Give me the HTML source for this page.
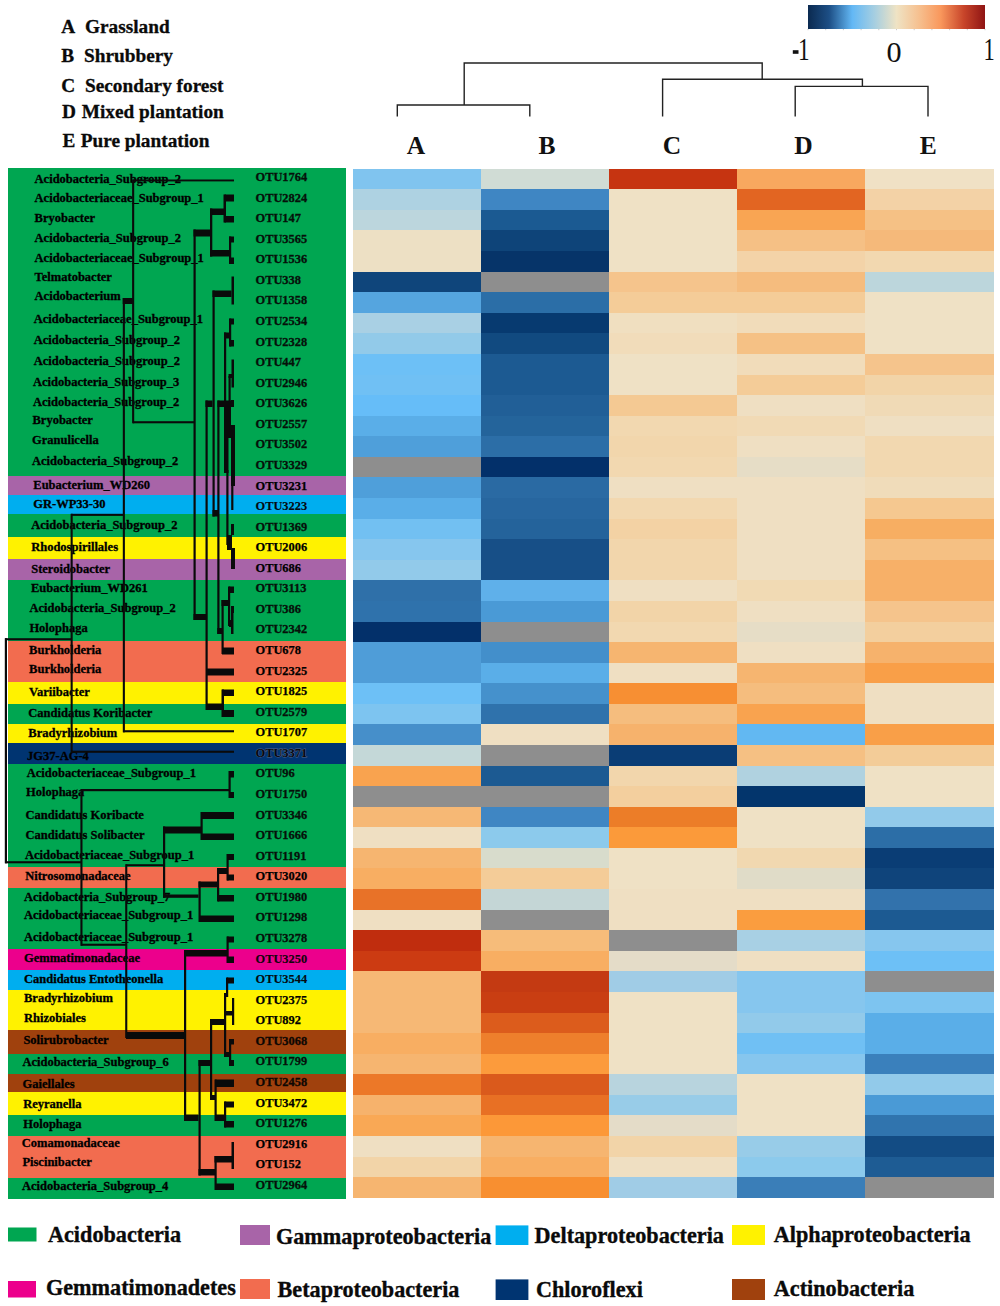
<!DOCTYPE html><html><head><meta charset="utf-8"><title>Heatmap</title>
<style>html,body{margin:0;padding:0;background:#fff}body{width:1000px;height:1306px;overflow:hidden}svg{display:block}text{font-family:"Liberation Serif", serif;}</style></head><body>
<svg width="1000" height="1306" viewBox="0 0 1000 1306">
<defs><linearGradient id="cb" x1="0" x2="1" y1="0" y2="0"><stop offset="0" stop-color="#0b2a50"/><stop offset="0.12" stop-color="#1d4f86"/><stop offset="0.25" stop-color="#63b8f5"/><stop offset="0.38" stop-color="#a8cfe0"/><stop offset="0.5" stop-color="#efe3c4"/><stop offset="0.63" stop-color="#f6bf8e"/><stop offset="0.75" stop-color="#f9975c"/><stop offset="0.88" stop-color="#c8452a"/><stop offset="1" stop-color="#8f1414"/></linearGradient></defs>
<rect width="1000" height="1306" fill="#fff"/>
<g font-weight="bold" font-size="19.3" fill="#0a0a0a" stroke="#0a0a0a" stroke-width="0.3">
<text x="61.3" y="32.6">A</text><text x="85.0" y="32.6">Grassland</text>
<text x="61.3" y="62.0">B</text><text x="84.0" y="62.0">Shrubbery</text>
<text x="61.3" y="91.8">C</text><text x="85.0" y="91.8">Secondary forest</text>
<text x="62.0" y="117.9">D</text><text x="81.8" y="117.9">Mixed plantation</text>
<text x="62.4" y="146.9">E</text><text x="80.7" y="146.9">Pure plantation</text>
</g>
<rect x="808" y="5" width="177" height="24" fill="url(#cb)"/>
<rect x="792.8" y="50.2" width="5.7" height="3.6" fill="#111"/>
<text transform="translate(798.1,59.7) scale(0.72,1)" font-size="32.3" fill="#111">1</text>
<text transform="translate(983.6,59.7) scale(0.70,1)" font-size="32.3" fill="#111">1</text>
<text transform="translate(886.6,62.3) scale(1.03,1)" font-size="29.3" fill="#111">0</text>
<g stroke="#b5b5b5" stroke-width="0.7">
<line x1="808.0" y1="29" x2="808.0" y2="30.2"/>
<line x1="825.7" y1="29" x2="825.7" y2="30.2"/>
<line x1="843.4" y1="29" x2="843.4" y2="30.2"/>
<line x1="861.1" y1="29" x2="861.1" y2="30.2"/>
<line x1="878.8" y1="29" x2="878.8" y2="30.2"/>
<line x1="896.5" y1="29" x2="896.5" y2="30.2"/>
<line x1="914.2" y1="29" x2="914.2" y2="30.2"/>
<line x1="931.9" y1="29" x2="931.9" y2="30.2"/>
<line x1="949.6" y1="29" x2="949.6" y2="30.2"/>
<line x1="967.3" y1="29" x2="967.3" y2="30.2"/>
<line x1="985.0" y1="29" x2="985.0" y2="30.2"/>
</g>
<g stroke="#222" stroke-width="1.4" fill="none">
<path d="M464.2 105V63H762.2V79.2"/>
<path d="M397.3 116.5V105H529.8V116.5"/>
<path d="M662.6 116.5V79.2H862.4V86.4"/>
<path d="M795.2 116.5V86.4H928V116.5"/>
</g>
<g font-weight="bold" font-size="25.5" fill="#111" text-anchor="middle">
<text x="416.0" y="154">A</text>
<text x="547.0" y="154">B</text>
<text x="672.0" y="154">C</text>
<text x="803.5" y="154">D</text>
<text x="928.3" y="154">E</text>
</g>
<g shape-rendering="crispEdges">
<rect x="8.2" y="167.8" width="338.0" height="308.8" fill="#00a651"/>
<rect x="8.2" y="476.0" width="338.0" height="19.5" fill="#a864a8"/>
<rect x="8.2" y="495.0" width="338.0" height="19.5" fill="#00aeef"/>
<rect x="8.2" y="514.0" width="338.0" height="23.0" fill="#00a651"/>
<rect x="8.2" y="536.5" width="338.0" height="23.0" fill="#fff200"/>
<rect x="8.2" y="559.0" width="338.0" height="21.5" fill="#a864a8"/>
<rect x="8.2" y="580.0" width="338.0" height="61.5" fill="#00a651"/>
<rect x="8.2" y="641.0" width="338.0" height="41.0" fill="#f26c4f"/>
<rect x="8.2" y="681.5" width="338.0" height="22.5" fill="#fff200"/>
<rect x="8.2" y="703.5" width="338.0" height="21.0" fill="#00a651"/>
<rect x="8.2" y="724.0" width="338.0" height="19.0" fill="#fff200"/>
<rect x="8.2" y="742.5" width="338.0" height="22.0" fill="#003471"/>
<rect x="8.2" y="764.0" width="338.0" height="103.5" fill="#00a651"/>
<rect x="8.2" y="867.0" width="338.0" height="21.5" fill="#f26c4f"/>
<rect x="8.2" y="888.0" width="338.0" height="61.5" fill="#00a651"/>
<rect x="8.2" y="949.0" width="338.0" height="21.5" fill="#ec008c"/>
<rect x="8.2" y="970.0" width="338.0" height="20.0" fill="#00aeef"/>
<rect x="8.2" y="989.5" width="338.0" height="41.0" fill="#fff200"/>
<rect x="8.2" y="1030.0" width="338.0" height="24.0" fill="#a0410d"/>
<rect x="8.2" y="1053.5" width="338.0" height="20.5" fill="#00a651"/>
<rect x="8.2" y="1073.5" width="338.0" height="19.0" fill="#a0410d"/>
<rect x="8.2" y="1092.0" width="338.0" height="23.1" fill="#fff200"/>
<rect x="8.2" y="1114.6" width="338.0" height="21.9" fill="#00a651"/>
<rect x="8.2" y="1136.0" width="338.0" height="42.0" fill="#f26c4f"/>
<rect x="8.2" y="1177.5" width="338.0" height="21.2" fill="#00a651"/>
</g>
<g shape-rendering="crispEdges">
<rect x="352.75" y="168.75" width="128.67" height="21.18" fill="#80c4ef"/>
<rect x="480.92" y="168.75" width="128.67" height="21.18" fill="#d0dcd5"/>
<rect x="609.09" y="168.75" width="128.67" height="21.18" fill="#c63411"/>
<rect x="737.26" y="168.75" width="128.67" height="21.18" fill="#f8a85f"/>
<rect x="865.43" y="168.75" width="128.67" height="21.18" fill="#f0e1c5"/>
<rect x="352.75" y="189.33" width="128.67" height="21.18" fill="#aed2e2"/>
<rect x="480.92" y="189.33" width="128.67" height="21.18" fill="#3f86c3"/>
<rect x="609.09" y="189.33" width="128.67" height="21.18" fill="#efe1c5"/>
<rect x="737.26" y="189.33" width="128.67" height="21.18" fill="#e26522"/>
<rect x="865.43" y="189.33" width="128.67" height="21.18" fill="#f3d2a6"/>
<rect x="352.75" y="209.91" width="128.67" height="21.18" fill="#bcd6dd"/>
<rect x="480.92" y="209.91" width="128.67" height="21.18" fill="#1b5a92"/>
<rect x="609.09" y="209.91" width="128.67" height="21.18" fill="#efe1c5"/>
<rect x="737.26" y="209.91" width="128.67" height="21.18" fill="#f9a553"/>
<rect x="865.43" y="209.91" width="128.67" height="21.18" fill="#f5c185"/>
<rect x="352.75" y="230.49" width="128.67" height="21.18" fill="#ede0c4"/>
<rect x="480.92" y="230.49" width="128.67" height="21.18" fill="#0e4479"/>
<rect x="609.09" y="230.49" width="128.67" height="21.18" fill="#efe1c5"/>
<rect x="737.26" y="230.49" width="128.67" height="21.18" fill="#f5c085"/>
<rect x="865.43" y="230.49" width="128.67" height="21.18" fill="#f5b97a"/>
<rect x="352.75" y="251.07" width="128.67" height="21.18" fill="#ede0c4"/>
<rect x="480.92" y="251.07" width="128.67" height="21.18" fill="#063469"/>
<rect x="609.09" y="251.07" width="128.67" height="21.18" fill="#efe1c5"/>
<rect x="737.26" y="251.07" width="128.67" height="21.18" fill="#f3d3a8"/>
<rect x="865.43" y="251.07" width="128.67" height="21.18" fill="#f2d8b0"/>
<rect x="352.75" y="271.65" width="128.67" height="21.18" fill="#0f457b"/>
<rect x="480.92" y="271.65" width="128.67" height="21.18" fill="#8e8e8e"/>
<rect x="609.09" y="271.65" width="128.67" height="21.18" fill="#f5c48c"/>
<rect x="737.26" y="271.65" width="128.67" height="21.18" fill="#f5bc7e"/>
<rect x="865.43" y="271.65" width="128.67" height="21.18" fill="#bcd6dc"/>
<rect x="352.75" y="292.23" width="128.67" height="21.18" fill="#55a5df"/>
<rect x="480.92" y="292.23" width="128.67" height="21.18" fill="#2b6ea7"/>
<rect x="609.09" y="292.23" width="128.67" height="21.18" fill="#f4cc98"/>
<rect x="737.26" y="292.23" width="128.67" height="21.18" fill="#f4cc98"/>
<rect x="865.43" y="292.23" width="128.67" height="21.18" fill="#efe1c5"/>
<rect x="352.75" y="312.81" width="128.67" height="21.18" fill="#a9d0e4"/>
<rect x="480.92" y="312.81" width="128.67" height="21.18" fill="#073a70"/>
<rect x="609.09" y="312.81" width="128.67" height="21.18" fill="#f0dfc0"/>
<rect x="737.26" y="312.81" width="128.67" height="21.18" fill="#f1dcba"/>
<rect x="865.43" y="312.81" width="128.67" height="21.18" fill="#efe1c5"/>
<rect x="352.75" y="333.39" width="128.67" height="21.18" fill="#92cae9"/>
<rect x="480.92" y="333.39" width="128.67" height="21.18" fill="#114a80"/>
<rect x="609.09" y="333.39" width="128.67" height="21.18" fill="#f1dcba"/>
<rect x="737.26" y="333.39" width="128.67" height="21.18" fill="#f5c185"/>
<rect x="865.43" y="333.39" width="128.67" height="21.18" fill="#efe1c5"/>
<rect x="352.75" y="353.97" width="128.67" height="21.18" fill="#6dc0f6"/>
<rect x="480.92" y="353.97" width="128.67" height="21.18" fill="#1c5a92"/>
<rect x="609.09" y="353.97" width="128.67" height="21.18" fill="#efe1c5"/>
<rect x="737.26" y="353.97" width="128.67" height="21.18" fill="#f1dcba"/>
<rect x="865.43" y="353.97" width="128.67" height="21.18" fill="#f5c48c"/>
<rect x="352.75" y="374.55" width="128.67" height="21.18" fill="#70c0f4"/>
<rect x="480.92" y="374.55" width="128.67" height="21.18" fill="#1c5a92"/>
<rect x="609.09" y="374.55" width="128.67" height="21.18" fill="#efe1c5"/>
<rect x="737.26" y="374.55" width="128.67" height="21.18" fill="#f4cc98"/>
<rect x="865.43" y="374.55" width="128.67" height="21.18" fill="#f2d4a8"/>
<rect x="352.75" y="395.13" width="128.67" height="21.18" fill="#66bdf8"/>
<rect x="480.92" y="395.13" width="128.67" height="21.18" fill="#215f97"/>
<rect x="609.09" y="395.13" width="128.67" height="21.18" fill="#f4c993"/>
<rect x="737.26" y="395.13" width="128.67" height="21.18" fill="#efdfc2"/>
<rect x="865.43" y="395.13" width="128.67" height="21.18" fill="#f0dab6"/>
<rect x="352.75" y="415.71" width="128.67" height="21.18" fill="#5aaee8"/>
<rect x="480.92" y="415.71" width="128.67" height="21.18" fill="#24649b"/>
<rect x="609.09" y="415.71" width="128.67" height="21.18" fill="#f2d8b0"/>
<rect x="737.26" y="415.71" width="128.67" height="21.18" fill="#f1dab5"/>
<rect x="865.43" y="415.71" width="128.67" height="21.18" fill="#efdfc2"/>
<rect x="352.75" y="436.29" width="128.67" height="21.18" fill="#4f9fda"/>
<rect x="480.92" y="436.29" width="128.67" height="21.18" fill="#2c6ea7"/>
<rect x="609.09" y="436.29" width="128.67" height="21.18" fill="#f2d6ac"/>
<rect x="737.26" y="436.29" width="128.67" height="21.18" fill="#efdfc2"/>
<rect x="865.43" y="436.29" width="128.67" height="21.18" fill="#f2d8b0"/>
<rect x="352.75" y="456.87" width="128.67" height="21.18" fill="#8e8e8e"/>
<rect x="480.92" y="456.87" width="128.67" height="21.18" fill="#03306a"/>
<rect x="609.09" y="456.87" width="128.67" height="21.18" fill="#f2d8b0"/>
<rect x="737.26" y="456.87" width="128.67" height="21.18" fill="#e6ddc6"/>
<rect x="865.43" y="456.87" width="128.67" height="21.18" fill="#f2d8b0"/>
<rect x="352.75" y="477.45" width="128.67" height="21.18" fill="#4f9fda"/>
<rect x="480.92" y="477.45" width="128.67" height="21.18" fill="#2a6aa3"/>
<rect x="609.09" y="477.45" width="128.67" height="21.18" fill="#efdfc2"/>
<rect x="737.26" y="477.45" width="128.67" height="21.18" fill="#efdfc2"/>
<rect x="865.43" y="477.45" width="128.67" height="21.18" fill="#f0dcba"/>
<rect x="352.75" y="498.03" width="128.67" height="21.18" fill="#5aaee8"/>
<rect x="480.92" y="498.03" width="128.67" height="21.18" fill="#27669f"/>
<rect x="609.09" y="498.03" width="128.67" height="21.18" fill="#f2d8b0"/>
<rect x="737.26" y="498.03" width="128.67" height="21.18" fill="#efdfc2"/>
<rect x="865.43" y="498.03" width="128.67" height="21.18" fill="#f5c890"/>
<rect x="352.75" y="518.61" width="128.67" height="21.18" fill="#72c0f2"/>
<rect x="480.92" y="518.61" width="128.67" height="21.18" fill="#24639b"/>
<rect x="609.09" y="518.61" width="128.67" height="21.18" fill="#f3d2a4"/>
<rect x="737.26" y="518.61" width="128.67" height="21.18" fill="#efdfc2"/>
<rect x="865.43" y="518.61" width="128.67" height="21.18" fill="#f7ae62"/>
<rect x="352.75" y="539.19" width="128.67" height="21.18" fill="#86c6ee"/>
<rect x="480.92" y="539.19" width="128.67" height="21.18" fill="#174f87"/>
<rect x="609.09" y="539.19" width="128.67" height="21.18" fill="#f2d6ac"/>
<rect x="737.26" y="539.19" width="128.67" height="21.18" fill="#efdfc2"/>
<rect x="865.43" y="539.19" width="128.67" height="21.18" fill="#f5c083"/>
<rect x="352.75" y="559.77" width="128.67" height="21.18" fill="#92caea"/>
<rect x="480.92" y="559.77" width="128.67" height="21.18" fill="#174f87"/>
<rect x="609.09" y="559.77" width="128.67" height="21.18" fill="#f2d6ac"/>
<rect x="737.26" y="559.77" width="128.67" height="21.18" fill="#efdfc2"/>
<rect x="865.43" y="559.77" width="128.67" height="21.18" fill="#f7b068"/>
<rect x="352.75" y="580.35" width="128.67" height="21.18" fill="#2f70a9"/>
<rect x="480.92" y="580.35" width="128.67" height="21.18" fill="#5fb0ea"/>
<rect x="609.09" y="580.35" width="128.67" height="21.18" fill="#efdfc2"/>
<rect x="737.26" y="580.35" width="128.67" height="21.18" fill="#f1dab4"/>
<rect x="865.43" y="580.35" width="128.67" height="21.18" fill="#f7b068"/>
<rect x="352.75" y="600.93" width="128.67" height="21.18" fill="#2f72ac"/>
<rect x="480.92" y="600.93" width="128.67" height="21.18" fill="#4a9ad6"/>
<rect x="609.09" y="600.93" width="128.67" height="21.18" fill="#f2d4a8"/>
<rect x="737.26" y="600.93" width="128.67" height="21.18" fill="#efdfc2"/>
<rect x="865.43" y="600.93" width="128.67" height="21.18" fill="#f5c48c"/>
<rect x="352.75" y="621.51" width="128.67" height="21.18" fill="#03306a"/>
<rect x="480.92" y="621.51" width="128.67" height="21.18" fill="#8e8e8e"/>
<rect x="609.09" y="621.51" width="128.67" height="21.18" fill="#f2d8b0"/>
<rect x="737.26" y="621.51" width="128.67" height="21.18" fill="#e6ddc6"/>
<rect x="865.43" y="621.51" width="128.67" height="21.18" fill="#f3cf9e"/>
<rect x="352.75" y="642.09" width="128.67" height="21.18" fill="#4f9dd8"/>
<rect x="480.92" y="642.09" width="128.67" height="21.18" fill="#438fcb"/>
<rect x="609.09" y="642.09" width="128.67" height="21.18" fill="#f6b570"/>
<rect x="737.26" y="642.09" width="128.67" height="21.18" fill="#efdfc2"/>
<rect x="865.43" y="642.09" width="128.67" height="21.18" fill="#f6b26c"/>
<rect x="352.75" y="662.67" width="128.67" height="21.18" fill="#4f9dd8"/>
<rect x="480.92" y="662.67" width="128.67" height="21.18" fill="#5aaee8"/>
<rect x="609.09" y="662.67" width="128.67" height="21.18" fill="#efdfc2"/>
<rect x="737.26" y="662.67" width="128.67" height="21.18" fill="#f6b570"/>
<rect x="865.43" y="662.67" width="128.67" height="21.18" fill="#f99f48"/>
<rect x="352.75" y="683.25" width="128.67" height="21.18" fill="#6dc0f6"/>
<rect x="480.92" y="683.25" width="128.67" height="21.18" fill="#4591cc"/>
<rect x="609.09" y="683.25" width="128.67" height="21.18" fill="#f78f33"/>
<rect x="737.26" y="683.25" width="128.67" height="21.18" fill="#f5bd7e"/>
<rect x="865.43" y="683.25" width="128.67" height="21.18" fill="#efdfc2"/>
<rect x="352.75" y="703.83" width="128.67" height="21.18" fill="#7dc4f0"/>
<rect x="480.92" y="703.83" width="128.67" height="21.18" fill="#2f72ac"/>
<rect x="609.09" y="703.83" width="128.67" height="21.18" fill="#f5bd7e"/>
<rect x="737.26" y="703.83" width="128.67" height="21.18" fill="#f9a34f"/>
<rect x="865.43" y="703.83" width="128.67" height="21.18" fill="#efdfc2"/>
<rect x="352.75" y="724.41" width="128.67" height="21.18" fill="#468fca"/>
<rect x="480.92" y="724.41" width="128.67" height="21.18" fill="#efdfc2"/>
<rect x="609.09" y="724.41" width="128.67" height="21.18" fill="#f6b26c"/>
<rect x="737.26" y="724.41" width="128.67" height="21.18" fill="#62b8f2"/>
<rect x="865.43" y="724.41" width="128.67" height="21.18" fill="#f99f48"/>
<rect x="352.75" y="744.99" width="128.67" height="21.18" fill="#c4d8d8"/>
<rect x="480.92" y="744.99" width="128.67" height="21.18" fill="#8e8e8e"/>
<rect x="609.09" y="744.99" width="128.67" height="21.18" fill="#0a3d75"/>
<rect x="737.26" y="744.99" width="128.67" height="21.18" fill="#f5c083"/>
<rect x="865.43" y="744.99" width="128.67" height="21.18" fill="#f3cc98"/>
<rect x="352.75" y="765.57" width="128.67" height="21.18" fill="#f9a34f"/>
<rect x="480.92" y="765.57" width="128.67" height="21.18" fill="#1c5a92"/>
<rect x="609.09" y="765.57" width="128.67" height="21.18" fill="#f2d6ac"/>
<rect x="737.26" y="765.57" width="128.67" height="21.18" fill="#b0d2e0"/>
<rect x="865.43" y="765.57" width="128.67" height="21.18" fill="#efe1c5"/>
<rect x="352.75" y="786.15" width="128.67" height="21.18" fill="#8e8e8e"/>
<rect x="480.92" y="786.15" width="128.67" height="21.18" fill="#8e8e8e"/>
<rect x="609.09" y="786.15" width="128.67" height="21.18" fill="#f3cf9e"/>
<rect x="737.26" y="786.15" width="128.67" height="21.18" fill="#03356c"/>
<rect x="865.43" y="786.15" width="128.67" height="21.18" fill="#efe1c5"/>
<rect x="352.75" y="806.73" width="128.67" height="21.18" fill="#f6b875"/>
<rect x="480.92" y="806.73" width="128.67" height="21.18" fill="#3f86c3"/>
<rect x="609.09" y="806.73" width="128.67" height="21.18" fill="#ec7d28"/>
<rect x="737.26" y="806.73" width="128.67" height="21.18" fill="#efe1c5"/>
<rect x="865.43" y="806.73" width="128.67" height="21.18" fill="#92caea"/>
<rect x="352.75" y="827.31" width="128.67" height="21.18" fill="#efdfc2"/>
<rect x="480.92" y="827.31" width="128.67" height="21.18" fill="#8ccaec"/>
<rect x="609.09" y="827.31" width="128.67" height="21.18" fill="#fb9a3a"/>
<rect x="737.26" y="827.31" width="128.67" height="21.18" fill="#efe1c5"/>
<rect x="865.43" y="827.31" width="128.67" height="21.18" fill="#2c6ea7"/>
<rect x="352.75" y="847.89" width="128.67" height="21.18" fill="#f6b570"/>
<rect x="480.92" y="847.89" width="128.67" height="21.18" fill="#d8dccc"/>
<rect x="609.09" y="847.89" width="128.67" height="21.18" fill="#efe1c5"/>
<rect x="737.26" y="847.89" width="128.67" height="21.18" fill="#f1d8b0"/>
<rect x="865.43" y="847.89" width="128.67" height="21.18" fill="#0a3d75"/>
<rect x="352.75" y="868.47" width="128.67" height="21.18" fill="#f8ae62"/>
<rect x="480.92" y="868.47" width="128.67" height="21.18" fill="#f4cc98"/>
<rect x="609.09" y="868.47" width="128.67" height="21.18" fill="#efe1c5"/>
<rect x="737.26" y="868.47" width="128.67" height="21.18" fill="#e0dcc8"/>
<rect x="865.43" y="868.47" width="128.67" height="21.18" fill="#0f447b"/>
<rect x="352.75" y="889.05" width="128.67" height="21.18" fill="#e87228"/>
<rect x="480.92" y="889.05" width="128.67" height="21.18" fill="#c4d6d6"/>
<rect x="609.09" y="889.05" width="128.67" height="21.18" fill="#efdfc2"/>
<rect x="737.26" y="889.05" width="128.67" height="21.18" fill="#efdfc2"/>
<rect x="865.43" y="889.05" width="128.67" height="21.18" fill="#3272ac"/>
<rect x="352.75" y="909.63" width="128.67" height="21.18" fill="#efdfc2"/>
<rect x="480.92" y="909.63" width="128.67" height="21.18" fill="#8e8e8e"/>
<rect x="609.09" y="909.63" width="128.67" height="21.18" fill="#efdfc2"/>
<rect x="737.26" y="909.63" width="128.67" height="21.18" fill="#fa9d3f"/>
<rect x="865.43" y="909.63" width="128.67" height="21.18" fill="#1c5a92"/>
<rect x="352.75" y="930.21" width="128.67" height="21.18" fill="#c02d0e"/>
<rect x="480.92" y="930.21" width="128.67" height="21.18" fill="#f6bc7a"/>
<rect x="609.09" y="930.21" width="128.67" height="21.18" fill="#8e8e8e"/>
<rect x="737.26" y="930.21" width="128.67" height="21.18" fill="#a8d0e4"/>
<rect x="865.43" y="930.21" width="128.67" height="21.18" fill="#86c6ee"/>
<rect x="352.75" y="950.79" width="128.67" height="21.18" fill="#cc3b12"/>
<rect x="480.92" y="950.79" width="128.67" height="21.18" fill="#f8ae62"/>
<rect x="609.09" y="950.79" width="128.67" height="21.18" fill="#e4dcc8"/>
<rect x="737.26" y="950.79" width="128.67" height="21.18" fill="#efdfc2"/>
<rect x="865.43" y="950.79" width="128.67" height="21.18" fill="#6dc0f6"/>
<rect x="352.75" y="971.37" width="128.67" height="21.18" fill="#f6b875"/>
<rect x="480.92" y="971.37" width="128.67" height="21.18" fill="#c43a12"/>
<rect x="609.09" y="971.37" width="128.67" height="21.18" fill="#a0cce6"/>
<rect x="737.26" y="971.37" width="128.67" height="21.18" fill="#86c6ee"/>
<rect x="865.43" y="971.37" width="128.67" height="21.18" fill="#8e8e8e"/>
<rect x="352.75" y="991.95" width="128.67" height="21.18" fill="#f6b875"/>
<rect x="480.92" y="991.95" width="128.67" height="21.18" fill="#c93e12"/>
<rect x="609.09" y="991.95" width="128.67" height="21.18" fill="#efe1c5"/>
<rect x="737.26" y="991.95" width="128.67" height="21.18" fill="#86c6ee"/>
<rect x="865.43" y="991.95" width="128.67" height="21.18" fill="#7dc4f0"/>
<rect x="352.75" y="1012.53" width="128.67" height="21.18" fill="#f6b875"/>
<rect x="480.92" y="1012.53" width="128.67" height="21.18" fill="#dc5c1c"/>
<rect x="609.09" y="1012.53" width="128.67" height="21.18" fill="#efe1c5"/>
<rect x="737.26" y="1012.53" width="128.67" height="21.18" fill="#92caea"/>
<rect x="865.43" y="1012.53" width="128.67" height="21.18" fill="#5aaee8"/>
<rect x="352.75" y="1033.11" width="128.67" height="21.18" fill="#f8ae62"/>
<rect x="480.92" y="1033.11" width="128.67" height="21.18" fill="#ee7f2c"/>
<rect x="609.09" y="1033.11" width="128.67" height="21.18" fill="#efe1c5"/>
<rect x="737.26" y="1033.11" width="128.67" height="21.18" fill="#70c0f4"/>
<rect x="865.43" y="1033.11" width="128.67" height="21.18" fill="#5aaee8"/>
<rect x="352.75" y="1053.69" width="128.67" height="21.18" fill="#f6b570"/>
<rect x="480.92" y="1053.69" width="128.67" height="21.18" fill="#fc9b3c"/>
<rect x="609.09" y="1053.69" width="128.67" height="21.18" fill="#efe1c5"/>
<rect x="737.26" y="1053.69" width="128.67" height="21.18" fill="#86c6ee"/>
<rect x="865.43" y="1053.69" width="128.67" height="21.18" fill="#3a80bc"/>
<rect x="352.75" y="1074.27" width="128.67" height="21.18" fill="#ec7828"/>
<rect x="480.92" y="1074.27" width="128.67" height="21.18" fill="#da5a1c"/>
<rect x="609.09" y="1074.27" width="128.67" height="21.18" fill="#b8d4de"/>
<rect x="737.26" y="1074.27" width="128.67" height="21.18" fill="#efe1c5"/>
<rect x="865.43" y="1074.27" width="128.67" height="21.18" fill="#92caea"/>
<rect x="352.75" y="1094.85" width="128.67" height="21.18" fill="#f6b26c"/>
<rect x="480.92" y="1094.85" width="128.67" height="21.18" fill="#e87024"/>
<rect x="609.09" y="1094.85" width="128.67" height="21.18" fill="#98cce8"/>
<rect x="737.26" y="1094.85" width="128.67" height="21.18" fill="#efe1c5"/>
<rect x="865.43" y="1094.85" width="128.67" height="21.18" fill="#4a9ad6"/>
<rect x="352.75" y="1115.43" width="128.67" height="21.18" fill="#f9a855"/>
<rect x="480.92" y="1115.43" width="128.67" height="21.18" fill="#fc9838"/>
<rect x="609.09" y="1115.43" width="128.67" height="21.18" fill="#e4dcc8"/>
<rect x="737.26" y="1115.43" width="128.67" height="21.18" fill="#efe1c5"/>
<rect x="865.43" y="1115.43" width="128.67" height="21.18" fill="#3074ae"/>
<rect x="352.75" y="1136.01" width="128.67" height="21.18" fill="#efdfc2"/>
<rect x="480.92" y="1136.01" width="128.67" height="21.18" fill="#f6b570"/>
<rect x="609.09" y="1136.01" width="128.67" height="21.18" fill="#f2d4a8"/>
<rect x="737.26" y="1136.01" width="128.67" height="21.18" fill="#98cce8"/>
<rect x="865.43" y="1136.01" width="128.67" height="21.18" fill="#134c84"/>
<rect x="352.75" y="1156.59" width="128.67" height="21.18" fill="#f2d4a8"/>
<rect x="480.92" y="1156.59" width="128.67" height="21.18" fill="#f8ae62"/>
<rect x="609.09" y="1156.59" width="128.67" height="21.18" fill="#efdfc2"/>
<rect x="737.26" y="1156.59" width="128.67" height="21.18" fill="#8ccaec"/>
<rect x="865.43" y="1156.59" width="128.67" height="21.18" fill="#1e5c94"/>
<rect x="352.75" y="1177.17" width="128.67" height="21.18" fill="#f6b570"/>
<rect x="480.92" y="1177.17" width="128.67" height="21.18" fill="#f88f30"/>
<rect x="609.09" y="1177.17" width="128.67" height="21.18" fill="#a0cce6"/>
<rect x="737.26" y="1177.17" width="128.67" height="21.18" fill="#3a7eb8"/>
<rect x="865.43" y="1177.17" width="128.67" height="21.18" fill="#8e8e8e"/>
</g>
<g font-weight="bold" font-size="12.5" fill="#000" stroke="#000" stroke-width="0.3">
<text x="34.6" y="182.6">Acidobacteria_Subgroup_2</text>
<text x="34.6" y="202.4">Acidobacteriaceae_Subgroup_1</text>
<text x="34.6" y="222.4">Bryobacter</text>
<text x="34.6" y="242.4">Acidobacteria_Subgroup_2</text>
<text x="34.6" y="262.2">Acidobacteriaceae_Subgroup_1</text>
<text x="34.6" y="281.4">Telmatobacter</text>
<text x="34.6" y="300.4">Acidobacterium</text>
<text x="33.8" y="322.5">Acidobacteriaceae_Subgroup_1</text>
<text x="33.8" y="343.8">Acidobacteria_Subgroup_2</text>
<text x="33.8" y="364.9">Acidobacteria_Subgroup_2</text>
<text x="33.0" y="386.2">Acidobacteria_Subgroup_3</text>
<text x="33.0" y="405.7">Acidobacteria_Subgroup_2</text>
<text x="32.5" y="424.3">Bryobacter</text>
<text x="32.0" y="443.8">Granulicella</text>
<text x="32.0" y="465.4">Acidobacteria_Subgroup_2</text>
<text x="33.3" y="488.8">Eubacterium_WD260</text>
<text x="33.3" y="508.3">GR-WP33-30</text>
<text x="31.2" y="529.1">Acidobacteria_Subgroup_2</text>
<text x="31.2" y="550.7">Rhodospirillales</text>
<text x="31.2" y="572.8">Steroidobacter</text>
<text x="31.0" y="592.3">Eubacterium_WD261</text>
<text x="29.4" y="612.3">Acidobacteria_Subgroup_2</text>
<text x="29.4" y="631.8">Holophaga</text>
<text x="29.1" y="654.0">Burkholderia</text>
<text x="29.1" y="673.4">Burkholderia</text>
<text x="29.1" y="696.3">Variibacter</text>
<text x="28.3" y="716.6">Candidatus Koribacter</text>
<text x="28.3" y="736.6">Bradyrhizobium</text>
<text x="27.0" y="759.5">JG37-AG-4</text>
<text x="26.8" y="777.0">Acidobacteriaceae_Subgroup_1</text>
<text x="26.0" y="796.4">Holophaga</text>
<text x="25.5" y="819.3">Candidatus Koribacte</text>
<text x="25.5" y="838.8">Candidatus Solibacter</text>
<text x="25.0" y="858.8">Acidobacteriaceae_Subgroup_1</text>
<text x="25.2" y="879.5">Nitrosomonadaceae</text>
<text x="24.0" y="901.2">Acidobacteria_Subgroup_7</text>
<text x="24.0" y="918.9">Acidobacteriaceae_Subgroup_1</text>
<text x="24.0" y="940.7">Acidobacteriaceae_Subgroup_1</text>
<text x="24.0" y="962.3">Gemmatimonadaceae</text>
<text x="24.0" y="983.0">Candidatus Entotheonella</text>
<text x="24.0" y="1002.0">Bradyrhizobium</text>
<text x="24.0" y="1021.6">Rhizobiales</text>
<text x="23.4" y="1043.7">Solirubrobacter</text>
<text x="22.4" y="1065.8">Acidobacteria_Subgroup_6</text>
<text x="22.6" y="1088.0">Gaiellales</text>
<text x="23.2" y="1108.0">Reyranella</text>
<text x="23.2" y="1128.0">Holophaga</text>
<text x="21.8" y="1147.0">Comamonadaceae</text>
<text x="22.4" y="1165.8">Piscinibacter</text>
<text x="22.0" y="1190.4">Acidobacteria_Subgroup_4</text>
</g>
<g font-weight="bold" font-size="12.4" paint-order="stroke">
<text x="255.5" y="180.9" fill="#06100a" stroke="#06100a" stroke-width="0.3">OTU1764</text>
<text x="255.5" y="201.5" fill="#06100a" stroke="#06100a" stroke-width="0.3">OTU2824</text>
<text x="255.5" y="222.0" fill="#06100a" stroke="#06100a" stroke-width="0.3">OTU147</text>
<text x="255.5" y="242.6" fill="#06100a" stroke="#06100a" stroke-width="0.3">OTU3565</text>
<text x="255.5" y="263.2" fill="#06100a" stroke="#06100a" stroke-width="0.3">OTU1536</text>
<text x="255.5" y="283.8" fill="#06100a" stroke="#06100a" stroke-width="0.3">OTU338</text>
<text x="255.5" y="304.3" fill="#06100a" stroke="#06100a" stroke-width="0.3">OTU1358</text>
<text x="255.5" y="324.9" fill="#06100a" stroke="#06100a" stroke-width="0.3">OTU2534</text>
<text x="255.5" y="345.5" fill="#06100a" stroke="#06100a" stroke-width="0.3">OTU2328</text>
<text x="255.5" y="366.0" fill="#06100a" stroke="#06100a" stroke-width="0.3">OTU447</text>
<text x="255.5" y="386.6" fill="#06100a" stroke="#06100a" stroke-width="0.3">OTU2946</text>
<text x="255.5" y="407.2" fill="#06100a" stroke="#06100a" stroke-width="0.3">OTU3626</text>
<text x="255.5" y="427.7" fill="#06100a" stroke="#06100a" stroke-width="0.3">OTU2557</text>
<text x="255.5" y="448.3" fill="#06100a" stroke="#06100a" stroke-width="0.3">OTU3502</text>
<text x="255.5" y="468.9" fill="#06100a" stroke="#06100a" stroke-width="0.3">OTU3329</text>
<text x="255.5" y="489.5" fill="#000" stroke="#000" stroke-width="0.25">OTU3231</text>
<text x="255.5" y="510.0" fill="#050a10" stroke="#050a10" stroke-width="0.15">OTU3223</text>
<text x="255.5" y="530.6" fill="#06100a" stroke="#06100a" stroke-width="0.3">OTU1369</text>
<text x="255.5" y="551.2" fill="#000" stroke="#000" stroke-width="0.25">OTU2006</text>
<text x="255.5" y="571.7" fill="#000" stroke="#000" stroke-width="0.25">OTU686</text>
<text x="255.5" y="592.3" fill="#06100a" stroke="#06100a" stroke-width="0.3">OTU3113</text>
<text x="255.5" y="612.9" fill="#06100a" stroke="#06100a" stroke-width="0.3">OTU386</text>
<text x="255.5" y="633.4" fill="#06100a" stroke="#06100a" stroke-width="0.3">OTU2342</text>
<text x="255.5" y="654.0" fill="#000" stroke="#000" stroke-width="0.25">OTU678</text>
<text x="255.5" y="674.6" fill="#000" stroke="#000" stroke-width="0.25">OTU2325</text>
<text x="255.5" y="695.1" fill="#000" stroke="#000" stroke-width="0.25">OTU1825</text>
<text x="255.5" y="715.7" fill="#06100a" stroke="#06100a" stroke-width="0.3">OTU2579</text>
<text x="255.5" y="736.3" fill="#000" stroke="#000" stroke-width="0.25">OTU1707</text>
<text x="255.5" y="756.9" fill="#07080f" stroke="#55648a" stroke-width="0.9">OTU3371</text>
<text x="255.5" y="777.4" fill="#06100a" stroke="#06100a" stroke-width="0.3">OTU96</text>
<text x="255.5" y="798.0" fill="#06100a" stroke="#06100a" stroke-width="0.3">OTU1750</text>
<text x="255.5" y="818.6" fill="#06100a" stroke="#06100a" stroke-width="0.3">OTU3346</text>
<text x="255.5" y="839.1" fill="#06100a" stroke="#06100a" stroke-width="0.3">OTU1666</text>
<text x="255.5" y="859.7" fill="#06100a" stroke="#06100a" stroke-width="0.3">OTU1191</text>
<text x="255.5" y="880.3" fill="#000" stroke="#000" stroke-width="0.25">OTU3020</text>
<text x="255.5" y="900.9" fill="#06100a" stroke="#06100a" stroke-width="0.3">OTU1980</text>
<text x="255.5" y="921.4" fill="#06100a" stroke="#06100a" stroke-width="0.3">OTU1298</text>
<text x="255.5" y="942.0" fill="#06100a" stroke="#06100a" stroke-width="0.3">OTU3278</text>
<text x="255.5" y="962.6" fill="#12040c" stroke="#12040c" stroke-width="0.15">OTU3250</text>
<text x="255.5" y="983.1" fill="#050a10" stroke="#050a10" stroke-width="0.15">OTU3544</text>
<text x="255.5" y="1003.7" fill="#000" stroke="#000" stroke-width="0.25">OTU2375</text>
<text x="255.5" y="1024.3" fill="#000" stroke="#000" stroke-width="0.25">OTU892</text>
<text x="255.5" y="1044.8" fill="#0d0703" stroke="#0d0703" stroke-width="0.3">OTU3068</text>
<text x="255.5" y="1065.4" fill="#06100a" stroke="#06100a" stroke-width="0.3">OTU1799</text>
<text x="255.5" y="1086.0" fill="#0d0703" stroke="#0d0703" stroke-width="0.3">OTU2458</text>
<text x="255.5" y="1106.5" fill="#000" stroke="#000" stroke-width="0.25">OTU3472</text>
<text x="255.5" y="1127.1" fill="#06100a" stroke="#06100a" stroke-width="0.3">OTU1276</text>
<text x="255.5" y="1147.7" fill="#000" stroke="#000" stroke-width="0.25">OTU2916</text>
<text x="255.5" y="1168.3" fill="#000" stroke="#000" stroke-width="0.25">OTU152</text>
<text x="255.5" y="1188.8" fill="#06100a" stroke="#06100a" stroke-width="0.3">OTU2964</text>
</g>
<g fill="#0a0a0a">
<rect x="133.0" y="179.5" width="101.0" height="1.9"/>
<rect x="132.1" y="179.5" width="2.1" height="243.8"/>
<rect x="133.0" y="421.2" width="61.0" height="2.1"/>
<rect x="122.7" y="298.0" width="10.3" height="6.0"/>
<rect x="122.8" y="298.0" width="2.1" height="434.3"/>
<rect x="123.0" y="730.2" width="111.0" height="2.1"/>
<rect x="71.0" y="513.8" width="53.0" height="2.1"/>
<rect x="70.6" y="513.8" width="2.1" height="239.0"/>
<rect x="71.0" y="750.7" width="163.0" height="2.1"/>
<rect x="5.0" y="638.2" width="67.0" height="2.1"/>
<rect x="4.8" y="638.2" width="2.2" height="225.1"/>
<rect x="5.0" y="861.2" width="77.0" height="2.1"/>
<rect x="80.4" y="789.0" width="2.1" height="156.8"/>
<rect x="81.0" y="789.0" width="148.0" height="2.2"/>
<rect x="81.0" y="943.7" width="46.0" height="2.1"/>
<rect x="125.2" y="864.2" width="2.1" height="173.8"/>
<rect x="126.0" y="864.2" width="38.0" height="2.1"/>
<rect x="126.0" y="1032.0" width="59.0" height="7.0"/>
<rect x="163.0" y="826.5" width="2.2" height="71.3"/>
<rect x="224.5" y="194.5" width="9.5" height="7.0"/>
<rect x="224.5" y="216.0" width="9.5" height="6.5"/>
<rect x="223.5" y="194.5" width="2.5" height="28.0"/>
<rect x="210.0" y="208.5" width="14.5" height="6.5"/>
<rect x="210.0" y="208.5" width="2.3" height="48.0"/>
<rect x="229.0" y="236.5" width="5.0" height="6.0"/>
<rect x="229.0" y="257.5" width="5.0" height="6.5"/>
<rect x="229.0" y="236.5" width="2.2" height="27.5"/>
<rect x="210.0" y="250.0" width="19.0" height="6.5"/>
<rect x="193.5" y="229.5" width="16.5" height="7.0"/>
<rect x="193.5" y="229.5" width="2.2" height="390.5"/>
<rect x="193.5" y="614.0" width="13.0" height="6.0"/>
<rect x="231.5" y="276.5" width="2.5" height="28.0"/>
<rect x="212.5" y="290.5" width="19.0" height="6.5"/>
<rect x="212.5" y="290.5" width="2.2" height="226.0"/>
<rect x="212.5" y="510.0" width="5.5" height="6.5"/>
<rect x="229.5" y="318.5" width="4.5" height="6.0"/>
<rect x="229.5" y="340.0" width="4.5" height="6.5"/>
<rect x="229.0" y="318.5" width="2.2" height="28.0"/>
<rect x="224.0" y="332.5" width="5.5" height="6.0"/>
<rect x="224.0" y="332.5" width="2.2" height="69.5"/>
<rect x="231.5" y="359.5" width="2.5" height="28.0"/>
<rect x="228.5" y="376.0" width="2.2" height="26.0"/>
<rect x="228.5" y="374.0" width="3.5" height="4.0"/>
<rect x="205.5" y="400.5" width="7.0" height="6.5"/>
<rect x="205.5" y="400.5" width="2.2" height="309.5"/>
<rect x="217.5" y="400.5" width="6.5" height="6.5"/>
<rect x="217.3" y="400.5" width="2.2" height="233.5"/>
<rect x="217.3" y="628.0" width="4.7" height="6.0"/>
<rect x="224.0" y="400.5" width="7.0" height="37.5"/>
<rect x="224.0" y="438.0" width="4.5" height="35.0"/>
<rect x="231.0" y="425.0" width="4.0" height="61.0"/>
<rect x="231.0" y="400.0" width="3.0" height="7.0"/>
<rect x="226.3" y="470.0" width="2.2" height="75.0"/>
<rect x="231.2" y="486.0" width="2.2" height="24.0"/>
<rect x="231.0" y="524.0" width="3.0" height="11.0"/>
<rect x="227.0" y="535.0" width="5.0" height="15.0"/>
<rect x="231.0" y="548.0" width="4.0" height="21.0"/>
<rect x="229.0" y="586.5" width="5.0" height="6.5"/>
<rect x="228.0" y="586.5" width="2.2" height="39.5"/>
<rect x="221.5" y="600.0" width="7.5" height="6.0"/>
<rect x="221.5" y="600.0" width="2.2" height="54.0"/>
<rect x="231.0" y="606.0" width="3.0" height="7.0"/>
<rect x="231.0" y="606.0" width="2.5" height="28.0"/>
<rect x="229.0" y="620.0" width="3.0" height="7.0"/>
<rect x="222.0" y="647.5" width="12.0" height="7.0"/>
<rect x="207.0" y="668.5" width="27.0" height="7.0"/>
<rect x="222.0" y="689.5" width="12.0" height="6.5"/>
<rect x="222.0" y="710.0" width="12.0" height="7.0"/>
<rect x="221.5" y="689.5" width="2.5" height="27.5"/>
<rect x="206.0" y="703.5" width="16.0" height="6.5"/>
<rect x="229.0" y="771.0" width="5.0" height="6.5"/>
<rect x="229.0" y="792.0" width="5.0" height="6.0"/>
<rect x="228.5" y="771.0" width="2.2" height="27.0"/>
<rect x="201.0" y="812.0" width="33.0" height="7.0"/>
<rect x="201.0" y="833.5" width="33.0" height="6.5"/>
<rect x="200.5" y="812.0" width="2.2" height="28.0"/>
<rect x="163.0" y="826.5" width="38.0" height="7.0"/>
<rect x="227.0" y="854.0" width="7.0" height="6.0"/>
<rect x="227.0" y="874.5" width="7.0" height="6.0"/>
<rect x="226.5" y="854.0" width="2.2" height="26.5"/>
<rect x="218.0" y="868.0" width="9.0" height="6.0"/>
<rect x="217.0" y="868.0" width="2.2" height="33.5"/>
<rect x="218.0" y="895.0" width="16.0" height="6.5"/>
<rect x="198.5" y="881.5" width="18.5" height="6.0"/>
<rect x="198.5" y="881.5" width="2.2" height="40.5"/>
<rect x="199.0" y="915.5" width="35.0" height="6.5"/>
<rect x="163.0" y="894.5" width="35.5" height="3.3"/>
<rect x="227.0" y="936.5" width="7.0" height="6.0"/>
<rect x="227.0" y="956.5" width="7.0" height="6.5"/>
<rect x="226.5" y="936.5" width="2.2" height="26.5"/>
<rect x="184.5" y="950.0" width="42.5" height="6.5"/>
<rect x="184.0" y="950.0" width="2.2" height="171.0"/>
<rect x="184.5" y="1114.5" width="14.0" height="6.5"/>
<rect x="227.0" y="977.5" width="7.0" height="6.0"/>
<rect x="226.0" y="977.5" width="2.2" height="19.5"/>
<rect x="224.0" y="993.0" width="2.2" height="63.0"/>
<rect x="232.0" y="998.0" width="2.2" height="27.0"/>
<rect x="226.0" y="1011.0" width="6.0" height="4.5"/>
<rect x="210.0" y="1019.0" width="14.0" height="6.0"/>
<rect x="210.0" y="1019.0" width="2.2" height="81.0"/>
<rect x="229.0" y="1039.0" width="5.0" height="5.5"/>
<rect x="229.0" y="1060.0" width="5.0" height="6.0"/>
<rect x="229.0" y="1039.0" width="2.2" height="27.0"/>
<rect x="224.0" y="1052.0" width="5.5" height="5.0"/>
<rect x="198.5" y="1060.0" width="11.5" height="6.0"/>
<rect x="198.5" y="1060.0" width="2.2" height="115.5"/>
<rect x="215.0" y="1079.5" width="19.0" height="7.5"/>
<rect x="214.5" y="1079.5" width="2.2" height="41.5"/>
<rect x="210.0" y="1095.0" width="5.0" height="5.0"/>
<rect x="224.5" y="1101.5" width="9.5" height="6.0"/>
<rect x="224.5" y="1121.0" width="9.5" height="6.5"/>
<rect x="224.0" y="1101.5" width="2.2" height="26.0"/>
<rect x="215.0" y="1114.5" width="9.5" height="6.5"/>
<rect x="231.5" y="1142.0" width="2.5" height="27.0"/>
<rect x="214.5" y="1156.0" width="17.5" height="6.5"/>
<rect x="214.5" y="1156.0" width="2.2" height="34.0"/>
<rect x="215.0" y="1183.5" width="19.0" height="6.5"/>
<rect x="198.5" y="1169.0" width="16.5" height="6.5"/>
</g>
<g font-weight="bold" font-size="22.2" fill="#0a0a0a" stroke="#0a0a0a" stroke-width="0.35">
<rect x="8.0" y="1227.5" width="28.5" height="14.0" fill="#00a651" stroke="none"/>
<text x="48.0" y="1242.0">Acidobacteria</text>
<rect x="240.0" y="1225.0" width="30.0" height="20.0" fill="#a864a8" stroke="none"/>
<text x="276.0" y="1244.0">Gammaproteobacteria</text>
<rect x="495.6" y="1225.4" width="32.8" height="19.6" fill="#00aeef" stroke="none"/>
<text x="534.6" y="1243.0">Deltaproteobacteria</text>
<rect x="732.0" y="1225.0" width="33.0" height="20.0" fill="#fff200" stroke="none"/>
<text x="773.8" y="1242.0">Alphaproteobacteria</text>
<rect x="8.0" y="1281.0" width="28.0" height="16.5" fill="#ec008c" stroke="none"/>
<text x="46.0" y="1295.0">Gemmatimonadetes</text>
<rect x="240.0" y="1279.0" width="30.0" height="20.0" fill="#f26c4f" stroke="none"/>
<text x="277.5" y="1297.0">Betaproteobacteria</text>
<rect x="495.6" y="1279.4" width="32.8" height="20.6" fill="#003471" stroke="none"/>
<text x="536.0" y="1297.0">Chloroflexi</text>
<rect x="732.0" y="1279.0" width="33.0" height="21.0" fill="#a0410d" stroke="none"/>
<text x="773.8" y="1296.0">Actinobacteria</text>
</g>
</svg></body></html>
